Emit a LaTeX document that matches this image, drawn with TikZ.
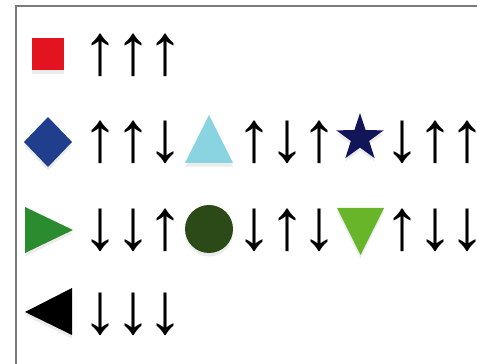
\documentclass[tikz,border=0pt]{standalone}
\usepackage{fontspec}
\setmainfont{Liberation Sans}
\usetikzlibrary{shadows,shapes.geometric}
\definecolor{sqred}{HTML}{E3141F}
\definecolor{diablue}{HTML}{1F3E8C}
\definecolor{tricyan}{HTML}{8AD3E0}
\definecolor{starnavy}{HTML}{121658}
\definecolor{trigreen}{HTML}{2A8C2E}
\definecolor{dotgreen}{HTML}{2B4A17}
\definecolor{lightgreen}{HTML}{69B52A}
\definecolor{framegray}{HTML}{7A7A7A}
\newcommand{\sk}{\kern-1.9pt}
\tikzset{
  spins/.style={anchor=west, inner sep=0pt, font=\fontsize{41}{41}\selectfont},
  mark shape/.style={draw=none, drop shadow={opacity=0.15, shadow xshift=0pt, shadow yshift=-2pt}}
}
\begin{document}
\begin{tikzpicture}[x=0.02cm, y=-0.02cm]
    \useasboundingbox (0,0) rectangle (477,364);
    
    % Frame
    \draw[framegray, line width=1.2pt] (16,364) -- (16,6) -- (477,6);
    
    % Row 1
    \fill[sqred, mark shape] (32,38) rectangle (64,70);
    \node[spins] (r1a) at (82,55) {↑\sk↑\sk↑};
    
    % Row 2
    \fill[diablue, mark shape] (48,117) -- (72,142) -- (48,167) -- (24,142) -- cycle;
    \node[spins] (r2a) at (82,142) {↑\sk↑\sk↓};
    \fill[tricyan, mark shape] (209,115) -- (233,163) -- (185,163) -- cycle;
    \node[spins] (r2b) at (236,142) {↑\sk↓\sk↑};
    \node[star, star points=5, star point ratio=2.6, minimum size=1cm, inner sep=0pt, fill=starnavy, mark shape] (star) at (360,138) {};
    \node[spins] (r2c) at (384,142) {↓\sk↑\sk↑};
    
    % Row 3
    \fill[trigreen, mark shape] (25,207) -- (73,230) -- (25,253) -- cycle;
    \node[spins] (r3a) at (82,230) {↓\sk↓\sk↑};
    \fill[dotgreen, mark shape] (209,229) circle (24);
    \node[spins] (r3b) at (236,230) {↓\sk↑\sk↓};
    \fill[lightgreen, mark shape] (337,208) -- (384,208) -- (360.5,255) -- cycle;
    \node[spins] (r3c) at (384,230) {↑\sk↓\sk↓};
    
    % Row 4
    \fill[black, mark shape] (72,288) -- (72,335) -- (25,312) -- cycle;
    \node[spins] (r4a) at (82,314) {↓\sk↓\sk↓};
\end{tikzpicture}
\end{document}
